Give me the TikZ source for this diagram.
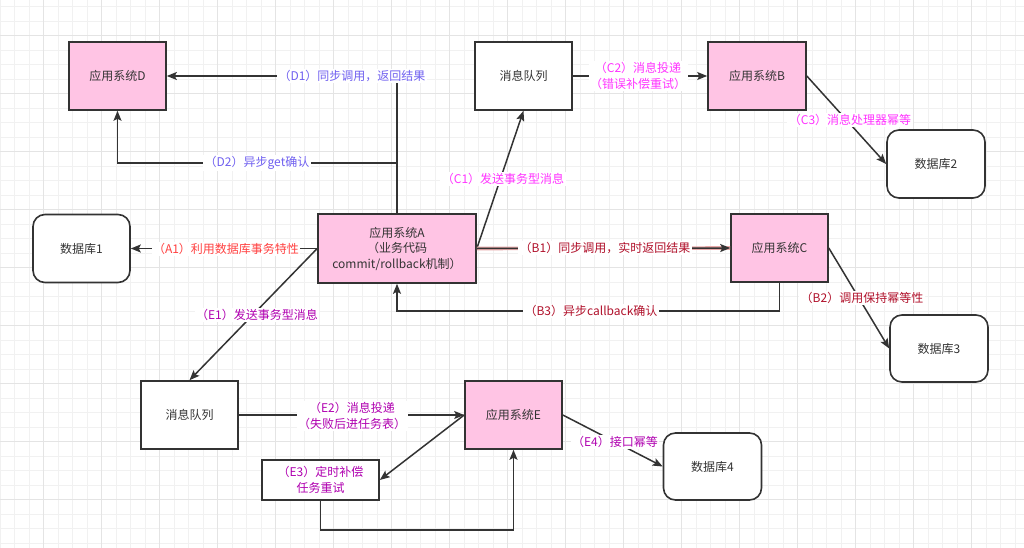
\documentclass[tikz,border=0pt]{standalone}
\usepackage{fontspec}
\setmainfont{Noto Sans CJK SC}
\usetikzlibrary{arrows.meta}
\definecolor{nodepink}{HTML}{FFC4E4}
\definecolor{edgec}{HTML}{333333}
\definecolor{txt}{HTML}{333333}
\definecolor{dcol}{HTML}{7060F0}
\definecolor{ccol}{HTML}{FF33FF}
\definecolor{acol}{HTML}{FF4040}
\definecolor{bcol}{HTML}{B0102A}
\definecolor{ecol}{HTML}{B000B0}
\definecolor{gridminor}{HTML}{F1F1F1}
\definecolor{gridmajor}{HTML}{E4E4E4}
\definecolor{bglow}{HTML}{E8A8A8}
\begin{document}
\begin{tikzpicture}[x=1pt,y=-1pt,
  box/.style={draw=edgec,line width=1.6pt,inner sep=0pt,
    font=\fontsize{12}{15.5}\selectfont,text=txt,align=center},
  app/.style={box,fill=nodepink},
  mq/.style={box,fill=white},
  db/.style={box,fill=white,rounded corners=12pt},
  conn/.style={draw=edgec,line width=1.5pt,-{Stealth[length=10pt,width=8pt,inset=2pt]}},
  seg/.style={draw=edgec,line width=1.5pt},
  lbl/.style={fill=white,inner sep=1.5pt,font=\fontsize{12}{15.5}\selectfont,align=center}
]
\useasboundingbox (0,0) rectangle (1024,548);
\fill[white] (0,0) rectangle (1024,548);
% grid
\foreach \i in {0,...,70} \draw[gridminor,line width=0.8pt] (\i*14.5,0) -- (\i*14.5,548);
\foreach \i in {0,...,37} \draw[gridminor,line width=0.8pt] (0,6.7+\i*14.5) -- (1024,6.7+\i*14.5);
\foreach \i in {0,...,17} \draw[gridmajor,line width=0.9pt] (43.5+\i*58,0) -- (43.5+\i*58,548);
\foreach \i in {0,...,8} \draw[gridmajor,line width=0.9pt] (0,35.7+\i*58) -- (1024,35.7+\i*58);

% nodes
\node[app,minimum width=97pt,minimum height=68pt] (D) at (117.5,76) {应用系统D};
\node[mq,minimum width=97pt,minimum height=68pt] (MQ1) at (523.5,76) {消息队列};
\node[app,minimum width=98pt,minimum height=68pt] (B) at (757,76) {应用系统B};
\node[db,minimum width=98pt,minimum height=68pt] (DB2) at (936,164) {数据库2};
\node[db,minimum width=97pt,minimum height=68pt] (DB1) at (81.5,248.5) {数据库1};
\node[app,minimum width=158pt,minimum height=69pt] (A) at (397,248.5) {应用系统A\\（业务代码\\commit/rollback机制）};
\node[app,minimum width=97pt,minimum height=68pt] (C) at (779.5,248) {应用系统C};
\node[db,minimum width=98pt,minimum height=67pt] (DB3) at (939,348.5) {数据库3};
\node[mq,minimum width=97pt,minimum height=68pt] (MQ2) at (189.5,415) {消息队列};
\node[app,minimum width=97pt,minimum height=68pt] (E) at (513.5,415) {应用系统E};
\node[mq,minimum width=117pt,minimum height=40pt,text=ecol] (E3) at (320.5,480) {（E3）定时补偿\\任务重试};
\node[db,minimum width=98pt,minimum height=67pt] (DB4) at (712.5,466.5) {数据库4};

% D edges
\coordinate (d2split) at (A.north |- 0,163);
\draw[conn] (A.north) |- (D.east);
\draw[conn] (d2split) -| (D.south);
\node[lbl,text=dcol] (lD1) at (352,76) {（D1）同步调用，返回结果};
\node[lbl,text=dcol] (lD2) at (257,163) {（D2）异步get确认};

% C edges
\draw[conn] (A.east) -- (MQ1.south);
\node[lbl,text=ccol] (lC1) at (503,179) {（C1）发送事务型消息};
\draw[conn] (MQ1.east) -- (B.west);
\node[lbl,text=ccol] (lC2) at (638,76) {（C2）消息投递\\（错误补偿重试）};
\draw[conn] (B.east) -- (DB2.west);
\node[lbl,text=ccol] (lC3) at (850,120) {（C3）消息处理器幂等};

% A edge
\draw[conn] (A.west) -- (DB1.east);
\node[lbl,text=acol] (lA1) at (226,249) {（A1）利用数据库事务特性};

% B edges
\draw[bglow,line width=3.6pt] (A.east) -- (C.west);
\draw[conn] (A.east) -- (C.west);
\node[lbl,text=bcol] (lB1) at (605,248) {（B1）同步调用，实时返回结果};
\draw[conn] (C.east) -- (DB3.west);
\node[lbl,text=bcol] (lB2) at (862,298) {（B2）调用保持幂等性};
\coordinate (b3corner) at (C.south |- 0,311);
\draw[conn] (C.south) -- (b3corner) -| (A.south);
\node[lbl,text=bcol] (lB3) at (591,311) {（B3）异步callback确认};

% E edges
\draw[conn] (A.west) -- (MQ2.north);
\node[lbl,text=ecol] (lE1) at (257,315) {（E1）发送事务型消息};
\draw[conn] (MQ2.east) -- (E.west);
\node[lbl,text=ecol] (lE2) at (352,416) {（E2）消息投递\\（失败后进任务表）};
\draw[conn] (E.west) -- (E3.east);
\coordinate (e3corner) at (E3.south |- 0,530);
\draw[conn] (E3.south) -- (e3corner) -| (E.south);
\draw[conn] (E.east) -- (DB4.west);
\node[lbl,text=ecol] (lE4) at (615,442) {（E4）接口幂等};
\end{tikzpicture}
\end{document}
